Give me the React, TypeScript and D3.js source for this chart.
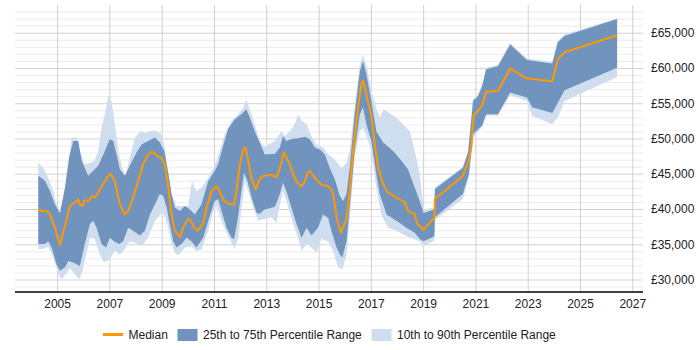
import * as d3 from "d3";

type Pt = [number, number];

// [decimal year, salary]
const median: Pt[] = [
  [2004.26, 40000], [2004.45, 39700], [2004.58, 39800], [2004.71, 39300], [2004.9, 37400],
  [2005.09, 35000], [2005.28, 37700], [2005.47, 40500], [2005.66, 41000], [2005.79, 41400],
  [2005.85, 40700], [2005.96, 40500], [2006.02, 41300], [2006.18, 41200], [2006.32, 41900],
  [2006.42, 41700], [2006.55, 42400], [2006.68, 43300], [2006.81, 44000], [2006.94, 44800],
  [2007.04, 45000], [2007.19, 44000], [2007.38, 40700], [2007.57, 39300], [2007.7, 39800],
  [2007.89, 41700], [2008.08, 44000], [2008.27, 46400], [2008.46, 47800], [2008.62, 48200],
  [2008.78, 47700], [2008.97, 47300], [2009.1, 46400], [2009.23, 43100], [2009.36, 39300],
  [2009.48, 37000], [2009.68, 36100], [2009.8, 37400], [2009.97, 38600], [2010.06, 38600],
  [2010.25, 37300], [2010.37, 37000], [2010.57, 38100], [2010.7, 40300], [2010.89, 42600],
  [2011.08, 43300], [2011.2, 42600], [2011.33, 41400], [2011.52, 40800], [2011.75, 40700],
  [2011.84, 42600], [2011.97, 46400], [2012.1, 48500], [2012.19, 48800], [2012.29, 46900],
  [2012.42, 44300], [2012.58, 42900], [2012.73, 44400], [2012.92, 44800], [2013.18, 44900],
  [2013.37, 44600], [2013.5, 45900], [2013.65, 48100], [2013.75, 47400], [2013.88, 46400],
  [2014.01, 45000], [2014.14, 43900], [2014.33, 43300], [2014.45, 44000], [2014.56, 45200],
  [2014.64, 45500], [2014.77, 44800], [2014.96, 44000], [2015.09, 43500], [2015.28, 43400],
  [2015.47, 42900], [2015.54, 42200], [2015.67, 38900], [2015.83, 36700], [2016.05, 38600],
  [2016.17, 42600], [2016.3, 48300], [2016.49, 54400], [2016.62, 57800], [2016.68, 58300],
  [2016.81, 56300], [2017.0, 53300], [2017.13, 49200], [2017.26, 45900], [2017.45, 43600],
  [2017.64, 42400], [2017.96, 41700], [2018.28, 41000], [2018.4, 39800], [2018.66, 39300],
  [2018.75, 38000], [2019.0, 37100], [2019.2, 38000], [2019.41, 38800], [2019.43, 41500],
  [2020.5, 44800], [2020.73, 47000], [2020.82, 48800], [2020.91, 53300], [2021.08, 54000],
  [2021.24, 54800], [2021.39, 56700], [2021.84, 56800], [2022.31, 60000], [2022.92, 58600],
  [2023.92, 58200], [2024.13, 61300], [2024.39, 62300], [2026.4, 64700],
];

const p75: Pt[] = [
  [2004.26, 44800], [2004.51, 44100], [2004.71, 42600], [2004.9, 40700], [2005.09, 39500],
  [2005.28, 43100], [2005.44, 47400], [2005.6, 49700], [2005.79, 49700], [2005.92, 46900],
  [2006.17, 44800], [2006.36, 45500], [2006.55, 46200], [2006.75, 47800], [2007.0, 50000],
  [2007.13, 49700], [2007.28, 47400], [2007.38, 45700], [2007.57, 44800], [2007.76, 46200],
  [2008.02, 48100], [2008.21, 49200], [2008.46, 49700], [2008.72, 50200], [2008.91, 49500],
  [2009.08, 48300], [2009.23, 45200], [2009.36, 42200], [2009.48, 40300], [2009.68, 39800],
  [2009.87, 40500], [2010.06, 40000], [2010.25, 39300], [2010.5, 40700], [2010.76, 44000],
  [2011.01, 45500], [2011.14, 46400], [2011.33, 49000], [2011.52, 51400], [2011.78, 52800],
  [2012.03, 53500], [2012.22, 54200], [2012.35, 53000], [2012.54, 51100], [2012.73, 49500],
  [2012.92, 47800], [2013.31, 47900], [2013.5, 48800], [2013.62, 50400], [2013.75, 49700],
  [2013.94, 50000], [2014.2, 50100], [2014.45, 50300], [2014.64, 50000], [2014.84, 48800],
  [2015.03, 48500], [2015.22, 47800], [2015.41, 45900], [2015.6, 44300], [2015.79, 42000],
  [2015.92, 41200], [2016.05, 42200], [2016.17, 45900], [2016.36, 53500], [2016.56, 59600],
  [2016.68, 61100], [2016.81, 59200], [2017.0, 55400], [2017.19, 51100], [2017.45, 49500],
  [2017.83, 48300], [2018.15, 46900], [2018.4, 45700], [2018.66, 43100], [2018.85, 41200],
  [2019.0, 39500], [2019.41, 40000], [2019.43, 42900], [2020.5, 45900], [2020.7, 48100],
  [2020.89, 55400], [2021.08, 56100], [2021.24, 57500], [2021.39, 59900], [2021.84, 60300],
  [2022.31, 63400], [2022.95, 61200], [2023.92, 60700], [2024.13, 63700], [2024.39, 64600],
  [2026.4, 67000],
];

const p25: Pt[] = [
  [2004.26, 35100], [2004.51, 35100], [2004.64, 35500], [2004.77, 34600], [2004.96, 32200],
  [2005.09, 31300], [2005.28, 31800], [2005.41, 32700], [2005.6, 32500], [2005.85, 32000],
  [2006.04, 35100], [2006.23, 37900], [2006.36, 38400], [2006.49, 37400], [2006.68, 35100],
  [2006.85, 34600], [2007.0, 36000], [2007.19, 35400], [2007.36, 35100], [2007.51, 35500],
  [2007.7, 37400], [2007.89, 37000], [2008.15, 36300], [2008.34, 37000], [2008.53, 39300],
  [2008.72, 40700], [2008.91, 42200], [2009.04, 41900], [2009.17, 40300], [2009.29, 37900],
  [2009.42, 35500], [2009.55, 34600], [2009.74, 35100], [2009.93, 36000], [2010.12, 35500],
  [2010.31, 34600], [2010.57, 36000], [2010.76, 38400], [2011.01, 41200], [2011.14, 41500],
  [2011.27, 39800], [2011.46, 37400], [2011.65, 36000], [2011.75, 35800], [2011.88, 38400],
  [2012.03, 42600], [2012.13, 45200], [2012.26, 44000], [2012.42, 41700], [2012.61, 39500],
  [2012.73, 39400], [2012.92, 40000], [2013.31, 40400], [2013.5, 42200], [2013.62, 43800],
  [2013.75, 42600], [2013.94, 40300], [2014.14, 37900], [2014.33, 36000], [2014.52, 37400],
  [2014.71, 36300], [2014.96, 37400], [2015.15, 39300], [2015.35, 38800], [2015.47, 37000],
  [2015.67, 34600], [2015.79, 33650], [2015.89, 33200], [2016.05, 35500], [2016.17, 40300],
  [2016.36, 48300], [2016.56, 53500], [2016.68, 54500], [2016.81, 52100], [2017.0, 49700],
  [2017.19, 45000], [2017.32, 42200], [2017.58, 39300], [2017.96, 38400], [2018.34, 37400],
  [2018.66, 36700], [2018.85, 35800], [2019.0, 35500], [2019.41, 36200], [2019.43, 38900],
  [2020.5, 42200], [2020.73, 45000], [2020.89, 50700], [2021.24, 51900], [2021.39, 53500],
  [2021.84, 53500], [2022.31, 56600], [2022.95, 55900], [2023.15, 54500], [2023.92, 53700],
  [2024.39, 56900], [2026.4, 60100],
];

const p90: Pt[] = [
  [2004.26, 46700], [2004.45, 45900], [2004.64, 44500], [2004.83, 42600], [2005.03, 39800],
  [2005.15, 39300], [2005.28, 41700], [2005.41, 46400], [2005.54, 50200], [2005.73, 50200],
  [2005.85, 48300], [2006.04, 46400], [2006.23, 46600], [2006.42, 46900], [2006.55, 48300],
  [2006.68, 51600], [2006.81, 53500], [2006.94, 56100], [2007.07, 55200], [2007.19, 52100],
  [2007.32, 48300], [2007.45, 46200], [2007.59, 44600], [2007.76, 47400], [2007.96, 50200],
  [2008.15, 51100], [2008.4, 50900], [2008.59, 51200], [2008.78, 51100], [2008.97, 50700],
  [2009.1, 48800], [2009.23, 45000], [2009.36, 42200], [2009.55, 40500], [2009.74, 40500],
  [2009.99, 40500], [2010.14, 44000], [2010.31, 42600], [2010.5, 43100], [2010.76, 44500],
  [2011.01, 46200], [2011.2, 48300], [2011.39, 50700], [2011.65, 52600], [2011.91, 53500],
  [2012.1, 54500], [2012.22, 55600], [2012.35, 54200], [2012.54, 52100], [2012.73, 49700],
  [2012.92, 48900], [2013.31, 49700], [2013.56, 51100], [2013.69, 50400], [2013.88, 51100],
  [2014.07, 52100], [2014.2, 53500], [2014.33, 52600], [2014.52, 52100], [2014.71, 50400],
  [2014.9, 49200], [2015.15, 48800], [2015.35, 47800], [2015.6, 47100], [2015.79, 46200],
  [2015.86, 45900], [2016.05, 46600], [2016.17, 48300], [2016.36, 54400], [2016.56, 60600],
  [2016.68, 61900], [2016.84, 60100], [2017.0, 56800], [2017.19, 54400], [2017.32, 53000],
  [2017.47, 54200], [2017.96, 53000], [2018.47, 51100], [2018.66, 48300], [2018.85, 45000],
  [2019.0, 40000], [2019.41, 40300], [2019.43, 43100], [2020.5, 46100], [2020.7, 48300],
  [2020.89, 55600], [2021.08, 56300], [2021.24, 57700], [2021.39, 60100], [2021.84, 60500],
  [2022.31, 63600], [2022.95, 61400], [2023.92, 60900], [2024.13, 63900], [2024.39, 64800],
  [2026.4, 67100],
];

const p10: Pt[] = [
  [2004.26, 34400], [2004.45, 34400], [2004.64, 34800], [2004.83, 33200], [2005.03, 30800],
  [2005.15, 30100], [2005.35, 31000], [2005.47, 31700], [2005.66, 30800], [2005.83, 30100],
  [2005.96, 31300], [2006.09, 33600], [2006.24, 36000], [2006.42, 35800], [2006.62, 33600],
  [2006.77, 32500], [2007.0, 32900], [2007.19, 34200], [2007.38, 33600], [2007.57, 34400],
  [2007.76, 35500], [2007.96, 35300], [2008.21, 34800], [2008.46, 36000], [2008.72, 38400],
  [2008.97, 39500], [2009.1, 39100], [2009.23, 37400], [2009.36, 35100], [2009.48, 33900],
  [2009.61, 33500], [2009.87, 34600], [2010.12, 34800], [2010.31, 34100], [2010.5, 34300],
  [2010.76, 37000], [2010.95, 39800], [2011.08, 40500], [2011.27, 38400], [2011.46, 36700],
  [2011.65, 35300], [2011.78, 34400], [2011.91, 36000], [2012.07, 41200], [2012.16, 44000],
  [2012.29, 42600], [2012.48, 40300], [2012.67, 38400], [2012.92, 38700], [2013.18, 38900],
  [2013.37, 38100], [2013.5, 40700], [2013.62, 42600], [2013.75, 41200], [2014.01, 37900],
  [2014.2, 36000], [2014.33, 34100], [2014.52, 35100], [2014.71, 34600], [2014.9, 33900],
  [2015.09, 35800], [2015.35, 35500], [2015.54, 34100], [2015.73, 31800], [2015.89, 31500],
  [2016.05, 33600], [2016.17, 38400], [2016.36, 47400], [2016.56, 51100], [2016.68, 51600],
  [2016.84, 50200], [2017.0, 48300], [2017.19, 43100], [2017.38, 39300], [2017.64, 37400],
  [2017.96, 37000], [2018.47, 36000], [2018.85, 35500], [2019.0, 34800], [2019.41, 35600],
  [2019.43, 38500], [2020.5, 41500], [2020.73, 44500], [2020.9, 50200], [2021.24, 51700],
  [2021.39, 53300], [2021.84, 53300], [2022.31, 56200], [2022.95, 55400], [2023.15, 53300],
  [2023.92, 52100], [2024.13, 53000], [2024.39, 55400], [2026.4, 58800],
];

const xTicks = [2005, 2007, 2009, 2011, 2013, 2015, 2017, 2019, 2021, 2023, 2025, 2027];
const yTicks = [30000, 35000, 40000, 45000, 50000, 55000, 60000, 65000];

const legendItems = ["Median", "25th to 75th Percentile Range", "10th to 90th Percentile Range"];

const FONT = "'Liberation Sans', Arial, sans-serif";
const DARK = "#7094bd";
const LIGHT = "#cfdeee";
const ORANGE = "#ff9800";

export default function App() {
  const left = 15, right = 643, top = 5, bottom = 292;

  const x = d3.scaleLinear().domain([2003.37, 2027.39]).range([left, right]);
  const y = d3.scaleLinear().domain([28300, 69000]).range([bottom, top]);

  const line = d3.line<Pt>().x((d) => x(d[0])).y((d) => y(d[1]));
  // polygon: upper edge forward, lower edge back
  const band = (hi: Pt[], lo: Pt[]) => line([...hi, ...[...lo].reverse()]) + "Z";

  const minor = d3.range(29000, 69000, 1000);
  const fmt = (v: number) => "£" + d3.format(",")(v);

  return (
    <svg
      width={700}
      height={350}
      style={{ position: "absolute", left: 0, top: 0, background: "#fff" }}
      fontFamily={FONT}
    >
      {minor.map((v) => (
        <line key={"m" + v} x1={left} x2={right} y1={y(v)} y2={y(v)}
          stroke={v % 5000 === 0 ? "#d2d2d2" : "#ebebeb"} strokeWidth={1} />
      ))}
      {xTicks.map((t) => (
        <line key={"v" + t} x1={x(t)} x2={x(t)} y1={top} y2={bottom} stroke="#d0d0d0" strokeWidth={1} />
      ))}

      <path d={band(p90, p10)} fill={LIGHT} />
      <path d={band(p75, p25)} fill={DARK} />
      <path d={line(median) ?? ""} fill="none" stroke={ORANGE} strokeWidth={2} strokeLinejoin="round" />

      <line x1={left} x2={right} y1={bottom} y2={bottom} stroke="#000" strokeWidth={1.5} />

      {xTicks.map((t) => (
        <text key={"xl" + t} x={x(t)} y={bottom + 16} textAnchor="middle" fontSize={12} fill="#222">
          {t}
        </text>
      ))}
      {yTicks.map((v) => (
        <text key={"yl" + v} x={651} y={y(v) + 4} fontSize={12} fill="#222">
          {fmt(v)}
        </text>
      ))}

      <g fontSize={12} fill="#222">
        <line x1={103} x2={123} y1={334.5} y2={334.5} stroke={ORANGE} strokeWidth={3} />
        <text x={128.5} y={338.5}>{legendItems[0]}</text>
        <rect x={177.5} y={329} width={20} height={12} fill={DARK} />
        <text x={203} y={338.5}>{legendItems[1]}</text>
        <rect x={371.5} y={329} width={20} height={12} fill={LIGHT} />
        <text x={397} y={338.5}>{legendItems[2]}</text>
      </g>
    </svg>
  );
}
